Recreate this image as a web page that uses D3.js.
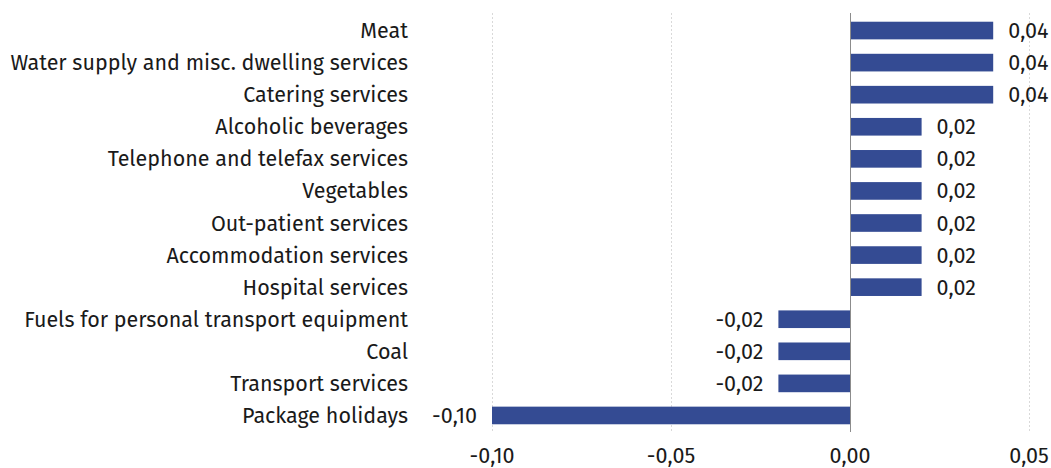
<!DOCTYPE html>
<html>
<head>
<meta charset="utf-8">
<script src="https://cdn.jsdelivr.net/npm/d3@7"></script>
<style>
  body { margin: 0; background: #fff; }
  text { font-family: "Fira Sans", "Open Sans", "Noto Sans", sans-serif; fill: #1a1a1a; }
</style>
</head>
<body>
<div id="chart"></div>
<script>
// categories, top to bottom
var categories = [
    "Meat",
    "Water supply and misc. dwelling services",
    "Catering services",
    "Alcoholic beverages",
    "Telephone and telefax services",
    "Vegetables",
    "Out-patient services",
    "Accommodation services",
    "Hospital services",
    "Fuels for personal transport equipment",
    "Coal",
    "Transport services",
    "Package holidays"
];
var values = [0.04, 0.04, 0.04, 0.02, 0.02, 0.02, 0.02, 0.02, 0.02, -0.02, -0.02, -0.02, -0.10];
var ticks = [-0.10, -0.05, 0.00, 0.05];

var fmt = function(v) {
    return d3.format(".2f")(v).replace(".", ",").replace("−", "-");
};

var draw = function() {
    var width = 1051, height = 468;

    var svg = d3.select("#chart").append("svg")
        .attr("width", width)
        .attr("height", height);

    var x = d3.scaleLinear()
        .domain([-0.10, 0.05])
        .range([492, 1029]);

    var y = d3.scaleBand()
        .domain(categories)
        .range([14.5, 431.5])
        .paddingInner(0.45)
        .paddingOuter(0.225);

    // grid
    svg.append("g")
        .selectAll("line")
        .data(ticks.filter(d => d !== 0))
        .join("line")
            .attr("x1", d => x(d) + 0.5)
            .attr("x2", d => x(d) + 0.5)
            .attr("y1", 13)
            .attr("y2", 432)
            .attr("stroke", "#d9d9d9")
            .attr("stroke-dasharray", "2,2");

    // bars
    svg.append("g")
        .selectAll("rect")
        .data(values)
        .join("rect")
            .attr("x", d => x(Math.min(0, d)))
            .attr("y", (d, i) => y(categories[i]))
            .attr("width", d => Math.abs(x(d) - x(0)))
            .attr("height", y.bandwidth())
            .attr("fill", "#344b93");

    // zero line
    svg.append("line")
        .attr("x1", x(0) + 0.5)
        .attr("x2", x(0) + 0.5)
        .attr("y1", 13)
        .attr("y2", 432)
        .attr("stroke", "#8c8c8c")
        .attr("stroke-width", 1);

    // value labels
    svg.append("g")
        .attr("font-size", 21.5)
        .selectAll("text")
        .data(values)
        .join("text")
            .attr("x", d => d >= 0 ? x(d) + 15 : x(d) - 15)
            .attr("y", (d, i) => y(categories[i]) + y.bandwidth() / 2)
            .attr("dy", "0.35em")
            .attr("text-anchor", d => d >= 0 ? "start" : "end")
            .text(d => fmt(d));

    // category labels
    svg.append("g")
        .attr("font-size", 21.5)
        .selectAll("text")
        .data(categories)
        .join("text")
            .attr("x", 408)
            .attr("y", d => y(d) + y.bandwidth() / 2)
            .attr("dy", "0.35em")
            .attr("text-anchor", "end")
            .text(d => d);

    // x axis labels
    svg.append("g")
        .attr("font-size", 21.5)
        .selectAll("text")
        .data(ticks)
        .join("text")
            .attr("x", d => x(d))
            .attr("y", 455)
            .attr("dy", "0.35em")
            .attr("text-anchor", "middle")
            .text(d => fmt(d));
};

draw();
</script>
</body>
</html>
